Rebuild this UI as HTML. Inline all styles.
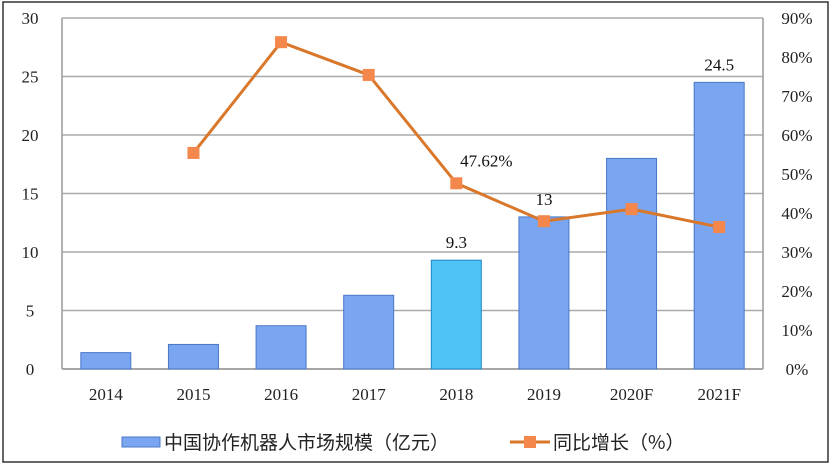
<!DOCTYPE html>
<html><head><meta charset="utf-8"><style>
body{margin:0;background:#fff}
svg{display:block;font-family:"Liberation Serif","Noto Serif CJK SC",serif}
</style></head><body>
<svg id="c" width="832" height="467">
<rect x="3" y="2" width="825" height="460" fill="#fff" stroke="#333" stroke-width="1.5"/>
<g id="g"></g>
</svg>
<script>
const categories=["2014","2015","2016","2017","2018","2019","2020F","2021F"];
const marketSize=[1.4,2.1,3.7,6.3,9.3,13,18,24.5];
const growth=[null,55.4,83.8,75.4,47.62,37.9,41,36.4];
const leftTicks=[0,5,10,15,20,25,30];
const rightTicks=["0%","10%","20%","30%","40%","50%","60%","70%","80%","90%"];
const barLabels={4:"9.3",5:"13",7:"24.5"};
const lineLabels={4:"47.62%"};
const NS="http://www.w3.org/2000/svg",g=document.getElementById('g');
const L=62,R=763,T=18,B=369;
const yL=v=>B-(v/30)*(B-T);
const yR=v=>B-(v/90)*(B-T);
const bw=(R-L)/categories.length;
const xC=i=>L+bw*(i+0.5);
function mk(t,a,txt){const e=document.createElementNS(NS,t);for(const k in a)e.setAttribute(k,a[k]);if(txt!=null)e.textContent=txt;g.appendChild(e);return e;}
leftTicks.forEach(v=>{
 const l=mk('line',{x1:L,x2:R,y1:yL(v),y2:yL(v),stroke:v===0?'#888':'#aaa','stroke-width':1.5});
 
 const t=mk('text',{x:30,y:yL(v)+6,'text-anchor':'middle','font-size':17,fill:'#222'},v);
 
});
rightTicks.forEach((s,i)=>{
 const t=mk('text',{x:797,y:yR(i*10)+6,'text-anchor':'middle','font-size':17,fill:'#222'},s);
 
});
let ax=mk('line',{x1:L,x2:L,y1:T,y2:B,stroke:'#999','stroke-width':1.5});

ax=mk('line',{x1:R,x2:R,y1:T,y2:B,stroke:'#999','stroke-width':1.5});

categories.forEach((c,i)=>{
 const h=B-yL(marketSize[i]);
 const r=mk('rect',{x:xC(i)-25,y:yL(marketSize[i]),width:50,height:h,fill:i===4?'#4fc3f7':'#7aa5f0',stroke:i===4?'#1e88c8':'#4a78c8','stroke-width':1});
 
 const t=mk('text',{x:xC(i),y:400,'text-anchor':'middle','font-size':17,fill:'#222'},c);
 
 if(barLabels[i]){const bl=mk('text',{x:xC(i),y:yL(marketSize[i])-12,'text-anchor':'middle','font-size':17,fill:'#111'},barLabels[i]);
 }
});
const pts=[];growth.forEach((v,i)=>{if(v!=null)pts.push([xC(i),yR(v)]);});
const pl=mk('polyline',{points:pts.map(p=>p.join(',')).join(' '),fill:'none',stroke:'#d9772a','stroke-width':3});

growth.forEach((v,i)=>{if(v==null)return;
 const m=mk('rect',{x:xC(i)-6,y:yR(v)-6,width:12,height:12,fill:'#f4874b'});
 
 if(lineLabels[i]){const t=mk('text',{x:xC(i)+30,y:yR(v)-17,'text-anchor':'middle','font-size':17,fill:'#111'},lineLabels[i]);
 }
});
let e=mk('rect',{x:122,y:437,width:38,height:10,fill:'#7aa5f0',stroke:'#4a78c8'});

e=mk('text',{x:164,y:449,'font-size':19,fill:'#222','font-family':'"Noto Sans CJK SC",sans-serif'},'中国协作机器人市场规模（亿元）');

e=mk('line',{x1:510,x2:550,y1:442,y2:442,stroke:'#d9772a','stroke-width':3});

e=mk('rect',{x:524,y:436,width:12,height:12,fill:'#f4874b'});

e=mk('text',{x:553,y:449,'font-size':19,fill:'#222','font-family':'"Noto Sans CJK SC",sans-serif'},'同比增长（%）');

</script>
</body></html>
